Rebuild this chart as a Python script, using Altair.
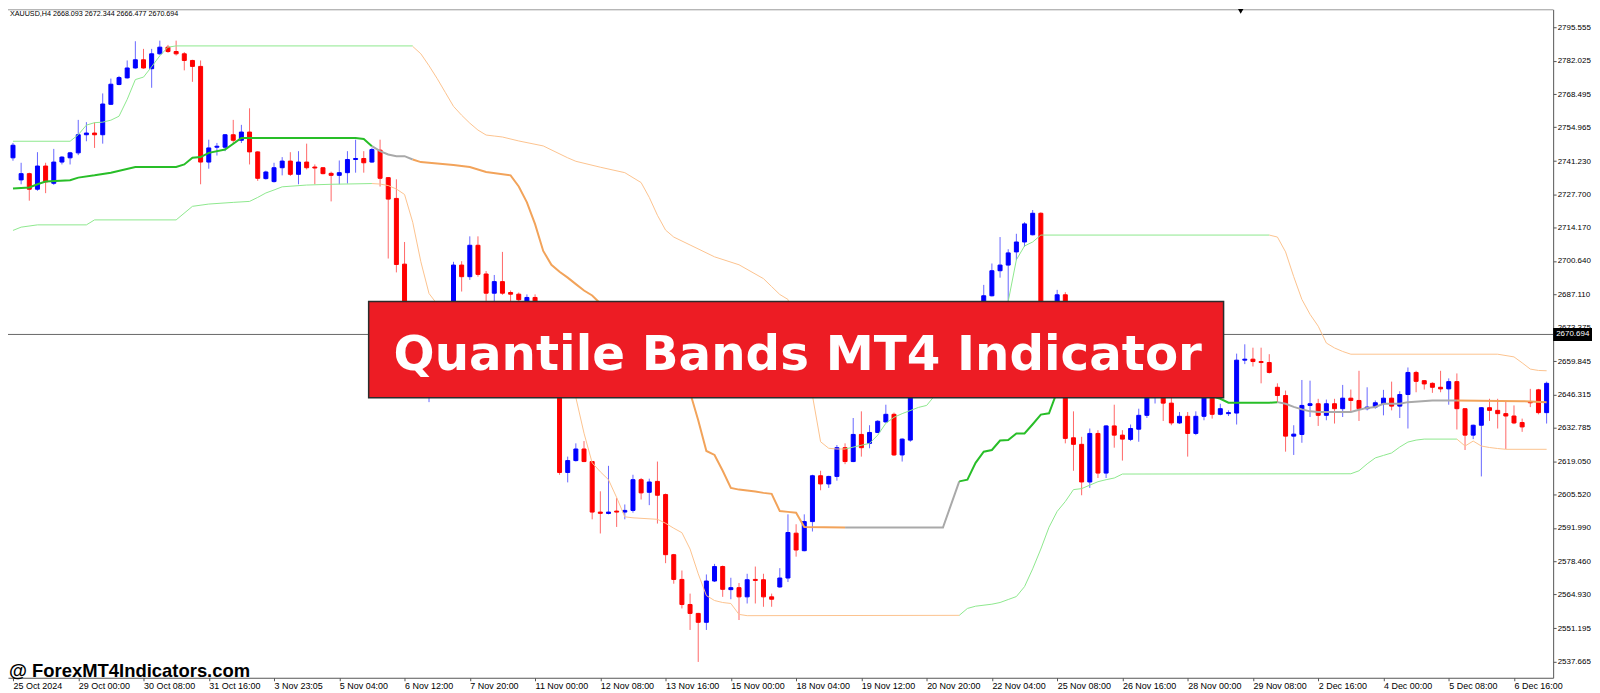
import json
import altair as alt
import pandas as pd

# ---------------- data (XAUUSD H4) ----------------
opens = [2742.56, 2733.58, 2736.12, 2729.79, 2739.22, 2732.21, 2740.83, 2742.56, 2744.58, 2751.95,
         2752.64, 2751.95, 2764.33, 2772.39, 2775.09, 2779.12, 2782.46, 2778.83, 2784.88, 2787.58,
         2785.81, 2784.88, 2782.18, 2779.76, 2740.83, 2746.88, 2746.88, 2751.95, 2749.70, 2753.04,
         2744.98, 2734.10, 2732.89, 2738.53, 2741.24, 2735.84, 2740.83, 2738.82, 2738.53, 2736.24,
         2735.43, 2736.52, 2741.88, 2742.28, 2740.83, 2745.67, 2734.50, 2726.04, 2699.30, 2670.00,
         2665.00, 2668.00, 2671.00, 2668.00, 2673.00, 2698.92, 2694.20, 2706.98, 2695.29, 2687.47,
         2692.19, 2687.76, 2687.07, 2680.00, 2685.74, 2676.00, 2665.00, 2654.00, 2614.53, 2619.37,
         2624.08, 2618.97, 2598.41, 2597.85, 2598.81, 2598.41, 2599.10, 2611.59, 2606.47, 2610.90,
         2605.54, 2581.08, 2571.01, 2560.81, 2557.18, 2553.56, 2570.36, 2576.25, 2566.86, 2567.66,
         2563.92, 2571.01, 2570.89, 2563.92, 2567.94, 2571.58, 2589.83, 2582.70, 2594.54, 2613.20,
         2609.86, 2612.92, 2624.61, 2618.97, 2630.01, 2626.38, 2630.81, 2635.09, 2638.19, 2621.66,
         2627.71, 2651.89, 2655.00, 2652.00, 2658.00, 2663.00, 2660.00, 2668.00, 2671.00, 2677.00,
         2686.43, 2696.62, 2698.92, 2704.28, 2708.31, 2711.25, 2720.00, 2666.00, 2672.00, 2686.83,
         2628.64, 2625.98, 2610.66, 2630.41, 2614.29, 2633.47, 2629.72, 2627.99, 2632.14, 2637.78,
         2646.00, 2651.00, 2642.74, 2634.68, 2637.38, 2630.41, 2637.38, 2645.50, 2638.19, 2638.47,
         2638.71, 2660.23, 2660.63, 2659.67, 2659.26, 2649.19, 2645.84, 2629.32, 2630.00, 2641.81,
         2642.50, 2637.78, 2642.50, 2640.48, 2644.76, 2643.83, 2640.48, 2641.13, 2642.50, 2644.76,
         2641.53, 2646.25, 2655.23, 2651.89, 2650.80, 2649.19, 2648.55, 2651.49, 2640.48, 2629.72,
         2633.75, 2640.88, 2639.80, 2638.47, 2637.50, 2634.84, 2643.15, 2648.14, 2638.88]

highs = [2748.61, 2740.55, 2736.52, 2744.86, 2740.55, 2746.19, 2743.25, 2744.98, 2758.00, 2757.07,
         2756.95, 2768.76, 2774.80, 2775.89, 2782.18, 2790.00, 2786.89, 2786.89, 2790.24, 2788.51,
         2790.24, 2785.57, 2782.46, 2782.18, 2749.94, 2748.61, 2752.20, 2758.00, 2755.98, 2762.71,
         2745.20, 2737.33, 2740.55, 2742.85, 2744.86, 2745.27, 2748.33, 2739.86, 2738.80, 2736.92,
         2741.48, 2745.27, 2749.94, 2745.27, 2746.59, 2749.94, 2734.70, 2733.82, 2708.31, 2676.00,
         2672.00, 2675.00, 2678.00, 2676.00, 2700.25, 2700.50, 2710.61, 2710.61, 2696.50, 2694.89,
         2704.28, 2688.56, 2687.76, 2687.00, 2687.00, 2679.00, 2669.00, 2656.00, 2620.98, 2626.38,
         2627.31, 2619.20, 2606.87, 2617.23, 2604.22, 2601.51, 2613.60, 2612.30, 2612.00, 2618.97,
         2605.95, 2581.40, 2574.64, 2565.24, 2557.40, 2573.03, 2577.33, 2576.65, 2571.69, 2569.56,
         2573.31, 2576.25, 2573.31, 2565.24, 2575.60, 2597.49, 2593.46, 2597.49, 2613.60, 2615.22,
         2613.20, 2625.70, 2626.38, 2636.70, 2639.40, 2633.75, 2635.77, 2642.10, 2638.90, 2628.40,
         2654.00, 2658.00, 2662.00, 2660.00, 2666.00, 2668.00, 2670.00, 2674.00, 2680.00, 2690.86,
         2699.56, 2710.32, 2705.37, 2711.65, 2716.37, 2721.33, 2720.40, 2676.00, 2688.84, 2687.88,
         2639.40, 2629.04, 2632.42, 2631.74, 2633.75, 2642.10, 2631.74, 2634.04, 2640.48, 2649.00,
         2655.00, 2655.00, 2645.00, 2639.12, 2639.12, 2639.40, 2648.00, 2648.00, 2642.50, 2639.80,
         2662.89, 2666.68, 2665.31, 2665.31, 2662.65, 2650.80, 2647.86, 2633.75, 2652.17, 2651.89,
         2644.50, 2644.20, 2644.50, 2650.16, 2648.27, 2655.90, 2649.19, 2643.83, 2648.14, 2651.49,
         2647.58, 2657.25, 2655.90, 2652.00, 2651.20, 2655.90, 2652.82, 2654.83, 2640.70, 2634.00,
         2641.10, 2644.51, 2644.51, 2643.43, 2641.81, 2636.45, 2648.55, 2648.55, 2651.49]

lows = [2741.36, 2731.80, 2725.12, 2729.15, 2728.18, 2731.56, 2739.86, 2739.86, 2743.65, 2749.30,
        2746.59, 2748.33, 2764.04, 2772.10, 2774.80, 2778.83, 2778.83, 2771.06, 2784.48, 2785.28,
        2784.19, 2778.15, 2773.48, 2731.80, 2738.13, 2743.49, 2745.27, 2748.61, 2748.61, 2739.86,
        2733.18, 2733.70, 2732.50, 2735.43, 2735.19, 2731.80, 2737.85, 2731.80, 2735.84, 2724.83,
        2731.80, 2732.09, 2736.52, 2736.52, 2740.55, 2730.88, 2701.58, 2695.94, 2665.99, 2660.00,
        2658.00, 2643.15, 2665.00, 2664.00, 2670.00, 2688.16, 2692.88, 2694.20, 2683.30, 2684.13,
        2686.83, 2684.13, 2680.10, 2676.00, 2672.00, 2663.00, 2650.00, 2613.60, 2610.50, 2618.97,
        2618.73, 2595.47, 2589.71, 2597.49, 2592.37, 2595.47, 2598.17, 2603.53, 2601.23, 2593.74,
        2577.62, 2569.27, 2559.20, 2550.45, 2537.44, 2550.45, 2569.96, 2563.92, 2562.95, 2554.49,
        2561.22, 2561.22, 2559.88, 2559.88, 2567.66, 2569.96, 2580.27, 2582.46, 2590.51, 2607.28,
        2608.25, 2611.19, 2617.92, 2618.73, 2620.98, 2624.37, 2630.53, 2634.84, 2621.26, 2618.97,
        2627.03, 2648.00, 2650.00, 2647.00, 2655.00, 2657.00, 2658.00, 2663.00, 2668.00, 2674.00,
        2686.15, 2693.80, 2684.13, 2700.93, 2706.30, 2711.00, 2663.98, 2662.00, 2668.00, 2626.38,
        2615.22, 2605.26, 2608.25, 2612.28, 2612.28, 2624.61, 2619.37, 2627.31, 2627.03, 2636.70,
        2642.60, 2635.49, 2633.75, 2634.28, 2620.98, 2629.72, 2635.77, 2636.45, 2637.78, 2637.50,
        2634.04, 2658.62, 2657.65, 2650.80, 2654.80, 2643.15, 2623.00, 2621.66, 2626.62, 2637.10,
        2633.47, 2635.77, 2634.44, 2637.10, 2639.52, 2635.49, 2639.80, 2640.48, 2637.78, 2639.80,
        2636.70, 2632.42, 2647.17, 2648.27, 2646.93, 2647.17, 2642.10, 2632.02, 2623.68, 2628.11,
        2612.92, 2635.49, 2632.42, 2624.08, 2634.20, 2631.06, 2641.13, 2638.19, 2634.44]

closes = [2747.68, 2736.12, 2729.79, 2739.22, 2732.77, 2740.83, 2742.85, 2744.58, 2751.95, 2752.64,
          2751.95, 2764.45, 2772.51, 2775.21, 2779.12, 2782.46, 2779.12, 2784.88, 2787.58, 2785.81,
          2784.88, 2782.18, 2779.76, 2740.83, 2746.59, 2747.28, 2751.95, 2749.70, 2753.04, 2744.98,
          2734.22, 2736.80, 2738.53, 2741.24, 2735.84, 2740.83, 2738.53, 2738.41, 2736.12, 2735.43,
          2736.52, 2741.88, 2742.28, 2740.55, 2745.91, 2734.22, 2725.76, 2699.16, 2670.02, 2665.00,
          2668.00, 2671.00, 2668.00, 2673.00, 2698.92, 2694.20, 2706.98, 2695.13, 2687.47, 2692.19,
          2687.47, 2687.07, 2684.81, 2685.74, 2676.00, 2665.00, 2654.00, 2614.53, 2619.37, 2624.08,
          2618.97, 2598.41, 2597.89, 2598.41, 2598.41, 2599.10, 2611.59, 2606.23, 2610.66, 2605.26,
          2581.08, 2571.01, 2560.81, 2557.18, 2553.56, 2570.36, 2576.25, 2566.98, 2567.66, 2563.92,
          2570.89, 2570.61, 2563.92, 2562.95, 2571.58, 2590.11, 2582.98, 2594.54, 2613.20, 2609.86,
          2612.92, 2624.61, 2618.97, 2630.01, 2624.61, 2630.81, 2635.37, 2638.19, 2621.66, 2628.11,
          2651.89, 2655.00, 2652.00, 2658.00, 2663.00, 2660.00, 2668.00, 2671.00, 2677.00, 2686.43,
          2696.62, 2698.92, 2703.88, 2708.31, 2715.68, 2720.00, 2665.99, 2672.00, 2686.83, 2628.40,
          2625.98, 2610.66, 2630.41, 2614.29, 2633.47, 2629.72, 2628.11, 2632.42, 2637.78, 2646.00,
          2652.00, 2642.74, 2634.68, 2637.38, 2630.41, 2637.38, 2645.50, 2638.19, 2640.48, 2638.88,
          2660.23, 2660.63, 2659.67, 2659.26, 2655.23, 2645.84, 2629.32, 2630.13, 2641.81, 2642.50,
          2637.78, 2642.50, 2640.48, 2644.76, 2643.83, 2640.48, 2641.13, 2642.90, 2644.76, 2641.53,
          2646.25, 2655.23, 2651.61, 2650.56, 2649.19, 2648.55, 2651.49, 2640.48, 2629.72, 2633.75,
          2640.88, 2639.80, 2638.47, 2637.50, 2634.68, 2633.07, 2642.90, 2638.88, 2650.80]

# Quantile bands: [bar index, price] vertices, one list per coloured run
mid_green_a = [[0, 2730.07], [2, 2730.47], [3, 2731.80], [4, 2732.89], [7, 2733.41], [8, 2734.50],
               [10, 2735.43], [12, 2736.52], [15, 2738.82], [20, 2738.82], [21, 2739.86], [22, 2742.56],
               [23, 2742.85], [24, 2744.58], [26, 2745.91], [28, 2750.63], [42, 2750.63], [43, 2750.22],
               [44, 2747.28]]
mid_gray_a = [[44, 2747.28], [45, 2745.27], [46, 2743.90], [47, 2743.25], [48, 2743.25], [49, 2741.88]]
mid_orange_a = [[49, 2741.88], [50, 2740.83], [52, 2740.27], [54, 2739.62], [56, 2738.82], [58, 2736.80],
                [61, 2735.43], [62, 2730.88], [63, 2724.43], [64, 2715.56], [65, 2704.68], [66, 2699.04],
                [67, 2696.22], [68, 2693.80], [69, 2691.18], [70, 2688.56], [71, 2686.55], [72, 2683.32],
                [75, 2672.04], [80, 2655.92], [83, 2647.05], [84, 2635.77], [85, 2623.28], [86, 2621.67],
                [87, 2615.22], [88, 2608.25], [89, 2607.56], [90, 2607.16], [91, 2606.75], [92, 2606.23],
                [93, 2605.83], [94, 2598.82], [95, 2598.50], [96, 2598.17], [97, 2592.37], [102, 2592.12]]
mid_gray_b = [[102, 2592.12], [114, 2592.12], [116, 2610.91]]
mid_green_b = [[116, 2610.91], [117, 2611.59], [118, 2618.44], [119, 2623.00], [120, 2623.68], [121, 2627.51],
               [122, 2627.71], [123, 2630.41], [124, 2630.41], [125, 2634.16], [126, 2638.07], [127, 2638.59],
               [128, 2647.50], [133, 2650.00], [140, 2648.00], [147, 2645.50], [148, 2644.51], [149, 2642.90],
               [154, 2642.90], [155, 2643.15]]
mid_gray_c = [[155, 2643.15], [156, 2642.50], [157, 2641.21], [158, 2640.20], [159, 2639.40], [160, 2639.12],
              [164, 2639.12], [165, 2640.08], [166, 2640.81], [167, 2641.21], [168, 2642.50], [170, 2642.50],
              [171, 2643.15], [174, 2643.83], [177, 2643.83]]
mid_orange_b = [[177, 2643.83], [185, 2643.55], [188, 2643.15]]

up_green_a = [[0, 2749.30], [7, 2749.30], [8, 2751.95], [9, 2755.86], [10, 2756.87], [11, 2757.07],
              [12, 2757.88], [13, 2759.49], [14, 2766.34], [15, 2774.40], [16, 2775.41], [17, 2779.64],
              [18, 2784.07], [19, 2787.58], [20, 2788.10], [49, 2788.10]]
up_orange_a = [[49, 2787.90], [50, 2784.88], [51, 2780.04], [52, 2774.80], [53, 2769.16], [54, 2763.52],
               [55, 2759.89], [56, 2756.67], [57, 2753.85], [58, 2751.83], [59, 2751.43], [60, 2751.03],
               [62, 2749.42], [65, 2747.40], [68, 2742.57], [69, 2741.15], [72, 2738.74], [75, 2736.52],
               [77, 2732.49], [78, 2726.45], [79, 2719.19], [80, 2713.15], [81, 2710.32], [83, 2707.10],
               [86, 2702.27], [89, 2699.04], [92, 2693.40], [93, 2690.17], [94, 2686.95], [95, 2684.94],
               [96, 2672.04], [97, 2655.92], [98, 2645.85], [99, 2627.02], [100, 2624.37], [101, 2624.08],
               [102, 2624.08]]
up_green_b = [[102, 2624.08], [105, 2626.38], [106, 2629.72], [107, 2634.56], [108, 2636.98], [109, 2638.47],
              [111, 2641.01], [112, 2641.81], [113, 2645.84], [117, 2662.00], [122, 2684.13], [123, 2701.06],
              [124, 2706.70], [125, 2708.31], [126, 2711.13], [154, 2711.13]]
up_orange_b = [[154, 2711.13], [155, 2710.32], [156, 2704.28], [157, 2694.20], [158, 2684.94], [159, 2678.89],
               [160, 2674.06], [161, 2667.20], [162, 2665.20], [163, 2663.77], [164, 2662.65], [182, 2662.65],
               [184, 2661.56], [185, 2659.14], [186, 2656.60], [187, 2656.04], [188, 2655.92]]

lo_green_a = [[0, 2713.02], [1, 2714.35], [3, 2715.28], [9, 2715.28], [10, 2717.30], [20, 2717.30],
              [22, 2722.82], [24, 2723.75], [27, 2724.43], [29, 2724.83], [30, 2726.45], [31, 2728.26],
              [32, 2729.47], [33, 2730.76], [36, 2731.48], [39, 2731.80], [44, 2732.09]]
lo_orange_a = [[44, 2732.09], [45, 2731.89], [46, 2731.28], [47, 2729.87], [48, 2727.65], [49, 2716.37],
               [50, 2700.25], [51, 2687.35], [55, 2670.00], [60, 2660.00], [65, 2652.00], [69, 2645.03],
               [70, 2630.53], [71, 2618.44], [72, 2614.80], [73, 2611.59], [74, 2604.34], [75, 2596.48],
               [76, 2596.08], [79, 2595.47], [80, 2593.86], [81, 2591.85], [82, 2590.03], [83, 2583.38],
               [84, 2573.31], [85, 2564.44], [86, 2562.42], [87, 2561.62], [88, 2561.22], [89, 2556.78],
               [90, 2556.26], [116, 2556.40]]
lo_green_b = [[116, 2556.40], [117, 2559.20], [118, 2560.12], [120, 2560.93], [121, 2561.62], [122, 2562.83],
              [123, 2564.04], [124, 2568.07], [125, 2575.32], [126, 2583.38], [127, 2592.25], [128, 2598.69],
              [129, 2602.72], [130, 2607.56], [131, 2607.96], [133, 2610.78], [134, 2611.59], [135, 2612.28],
              [136, 2613.89], [164, 2614.01], [165, 2615.22], [166, 2618.04], [167, 2620.46], [168, 2621.47],
              [169, 2622.47], [170, 2624.89], [171, 2626.90], [172, 2627.71], [173, 2628.11], [177, 2628.11]]
lo_orange_b = [[177, 2628.11], [178, 2625.29], [179, 2627.31], [180, 2625.29], [181, 2624.69], [182, 2624.28],
               [183, 2623.96], [188, 2623.96]]

x_labels = ["25 Oct 2024", "29 Oct 00:00", "30 Oct 08:00", "31 Oct 16:00", "3 Nov 23:05", "5 Nov 04:00",
            "6 Nov 12:00", "7 Nov 20:00", "11 Nov 00:00", "12 Nov 08:00", "13 Nov 16:00", "15 Nov 00:00",
            "18 Nov 04:00", "19 Nov 12:00", "20 Nov 20:00", "22 Nov 04:00", "25 Nov 08:00", "26 Nov 16:00",
            "28 Nov 00:00", "29 Nov 08:00", "2 Dec 16:00", "4 Dec 00:00", "5 Dec 08:00", "6 Dec 16:00"]
x_label_step = 8
y_ticks = [2795.555, 2782.025, 2768.495, 2754.965, 2741.230, 2727.700, 2714.170, 2700.640, 2687.110,
           2673.375, 2659.845, 2646.315, 2632.785, 2619.050, 2605.520, 2591.990, 2578.460, 2564.930,
           2551.195, 2537.665]
last_price = 2670.694
header_text = "XAUUSD,H4  2668.093 2672.344 2666.477 2670.694"
watermark_text = "@ ForexMT4Indicators.com"
banner_text = "Quantile Bands MT4 Indicator"

# ---------------- layout / style ----------------
W, H = 1551, 671
X_DOMAIN = [0, 188.19]
Y_DOMAIN = [2531.0, 2803.0]
BLUE, RED = "#0000FF", "#FF0000"
THIN = {"green": "#8EE88E", "orange": "#FCC38F"}
THICK = {"green": "#28BE28", "gray": "#A9A9A9", "orange": "#F2A35A"}

xs = alt.Scale(domain=X_DOMAIN, nice=False, zero=False)
ys = alt.Scale(domain=Y_DOMAIN, nice=False, zero=False)

label_expr = json.dumps(x_labels) + "[round(datum.value / %d)]" % x_label_step
x_axis = alt.Axis(values=list(range(0, x_label_step * len(x_labels), x_label_step)), labelExpr=label_expr,
                  labelAlign="left", labelBaseline="top", labelPadding=1, tickSize=3, labelFont="Liberation Sans",
                  labelFontSize=9, labelColor="#000000", domainColor="#555555", tickColor="#555555", grid=False,
                  title=None, labelOverlap=False, labelBound=False, labelFlush=False)
y_axis = alt.Axis(orient="right", values=y_ticks, format=".3f", labelFont="Liberation Sans", labelFontSize=8,
                  labelColor="#000000", tickSize=3, labelPadding=1, domainColor="#555555", tickColor="#555555",
                  grid=False, title=None, labelOverlap=False, labelBound=False, labelFlush=False)

candles = pd.DataFrame({"bar": list(range(len(opens))), "open": opens, "high": highs,
                        "low": lows, "close": closes})
candles["body_col"] = [BLUE if c >= o else RED for o, c in zip(opens, closes)]


def runs_frame(runs, palette):
    rows = []
    for i, (key, pts) in enumerate(runs):
        for b, v in pts:
            rows.append({"bar": b, "value": v, "seg": i, "col": palette[key]})
    return pd.DataFrame(rows)


thin_df = runs_frame([("green", up_green_a), ("orange", up_orange_a), ("green", up_green_b), ("orange", up_orange_b),
                      ("green", lo_green_a), ("orange", lo_orange_a), ("green", lo_green_b), ("orange", lo_orange_b)],
                     THIN)
thick_df = runs_frame([("green", mid_green_a), ("gray", mid_gray_a), ("orange", mid_orange_a), ("gray", mid_gray_b),
                       ("green", mid_green_b), ("gray", mid_gray_c), ("orange", mid_orange_b)], THICK)

X = lambda f: alt.X(f, scale=xs, axis=x_axis)
Y = lambda f: alt.Y(f, scale=ys, axis=y_axis)

wicks = alt.Chart(candles).mark_rule(strokeWidth=1, opacity=0.6, clip=True).encode(
    x=X("bar:Q"), y=Y("low:Q"), y2="high:Q", color=alt.Color("body_col:N", scale=None))
bodies = alt.Chart(candles).mark_bar(size=4, strokeWidth=1, clip=True).encode(
    x=X("bar:Q"), y=Y("open:Q"), y2="close:Q",
    fill=alt.Fill("body_col:N", scale=None), stroke=alt.Stroke("body_col:N", scale=None))
thin_lines = alt.Chart(thin_df).mark_line(strokeWidth=1, clip=True).encode(
    x=X("bar:Q"), y=Y("value:Q"), detail="seg:N", color=alt.Color("col:N", scale=None))
thick_lines = alt.Chart(thick_df).mark_line(strokeWidth=2, clip=True).encode(
    x=X("bar:Q"), y=Y("value:Q"), detail="seg:N", color=alt.Color("col:N", scale=None))

price_df = pd.DataFrame({"p": [last_price], "t": ["%.3f" % last_price]})
price_line = alt.Chart(price_df).mark_rule(color="#666666", strokeWidth=1).encode(y=Y("p:Q"))

# banner annotation (in chart data space)
banner_df = pd.DataFrame({"x1": [43.6], "x2": [148.4], "y1": [2684.1], "y2": [2644.9]})
banner = alt.Chart(banner_df).mark_rect(fill="#ED1C24", stroke="#2B2B2B", strokeWidth=1.5).encode(
    x=X("x1:Q"), x2="x2:Q", y=Y("y1:Q"), y2="y2:Q")
banner_lbl = alt.Chart(pd.DataFrame({"x": [96.2], "y": [2662.4], "t": [banner_text]})).mark_text(
    font="DejaVu Sans", fontWeight="bold", fontSize=48.5, color="white", align="center", baseline="middle").encode(
    x=X("x:Q"), y=Y("y:Q"), text="t:N")

header = alt.Chart(pd.DataFrame({"t": [header_text]})).mark_text(
    font="Liberation Sans", fontSize=7.2, color="#000000", align="left", baseline="middle").encode(
    x=alt.value(2), y=alt.value(5), text="t:N")
watermark = alt.Chart(pd.DataFrame({"t": [watermark_text]})).mark_text(
    font="Liberation Sans", fontWeight="bold", fontSize=18.5, color="#000000", align="left",
    baseline="middle").encode(x=alt.value(1), y=alt.value(664), text="t:N")

price_px = (Y_DOMAIN[1] - last_price) / (Y_DOMAIN[1] - Y_DOMAIN[0]) * H
price_box = alt.Chart(price_df).mark_rect(color="#000000").encode(
    x=alt.value(W), x2=alt.value(W + 39), y=alt.value(price_px - 6.5), y2=alt.value(price_px + 6.5))
price_txt = alt.Chart(price_df).mark_text(font="Liberation Sans", fontSize=8, color="white", align="left",
                                          baseline="middle").encode(
    x=alt.value(W + 3), y=alt.value(price_px), text="t:N")

top_border = alt.Chart(price_df).mark_rule(color="#9A9A9A", strokeWidth=1).encode(
    x=alt.value(0), x2=alt.value(W), y=alt.value(0.5))
shift_mark = alt.Chart(pd.DataFrame({"x": [150.5]})).mark_point(
    shape="triangle-down", filled=True, color="#000000", size=30, opacity=1).encode(
    x=X("x:Q"), y=alt.value(2))

chart = alt.layer(
    wicks, bodies, price_line, thin_lines, thick_lines, banner, banner_lbl, header, watermark,
    price_box, price_txt, top_border, shift_mark
).properties(
    width=W, height=H,
    padding={"left": 0, "top": 0, "right": 39, "bottom": 12},
    autosize=alt.AutoSizeParams(type="none"),
    background="white",
).configure_view(stroke=None)

chart.save("out.html", embed_options={"renderer": "svg", "actions": False})
